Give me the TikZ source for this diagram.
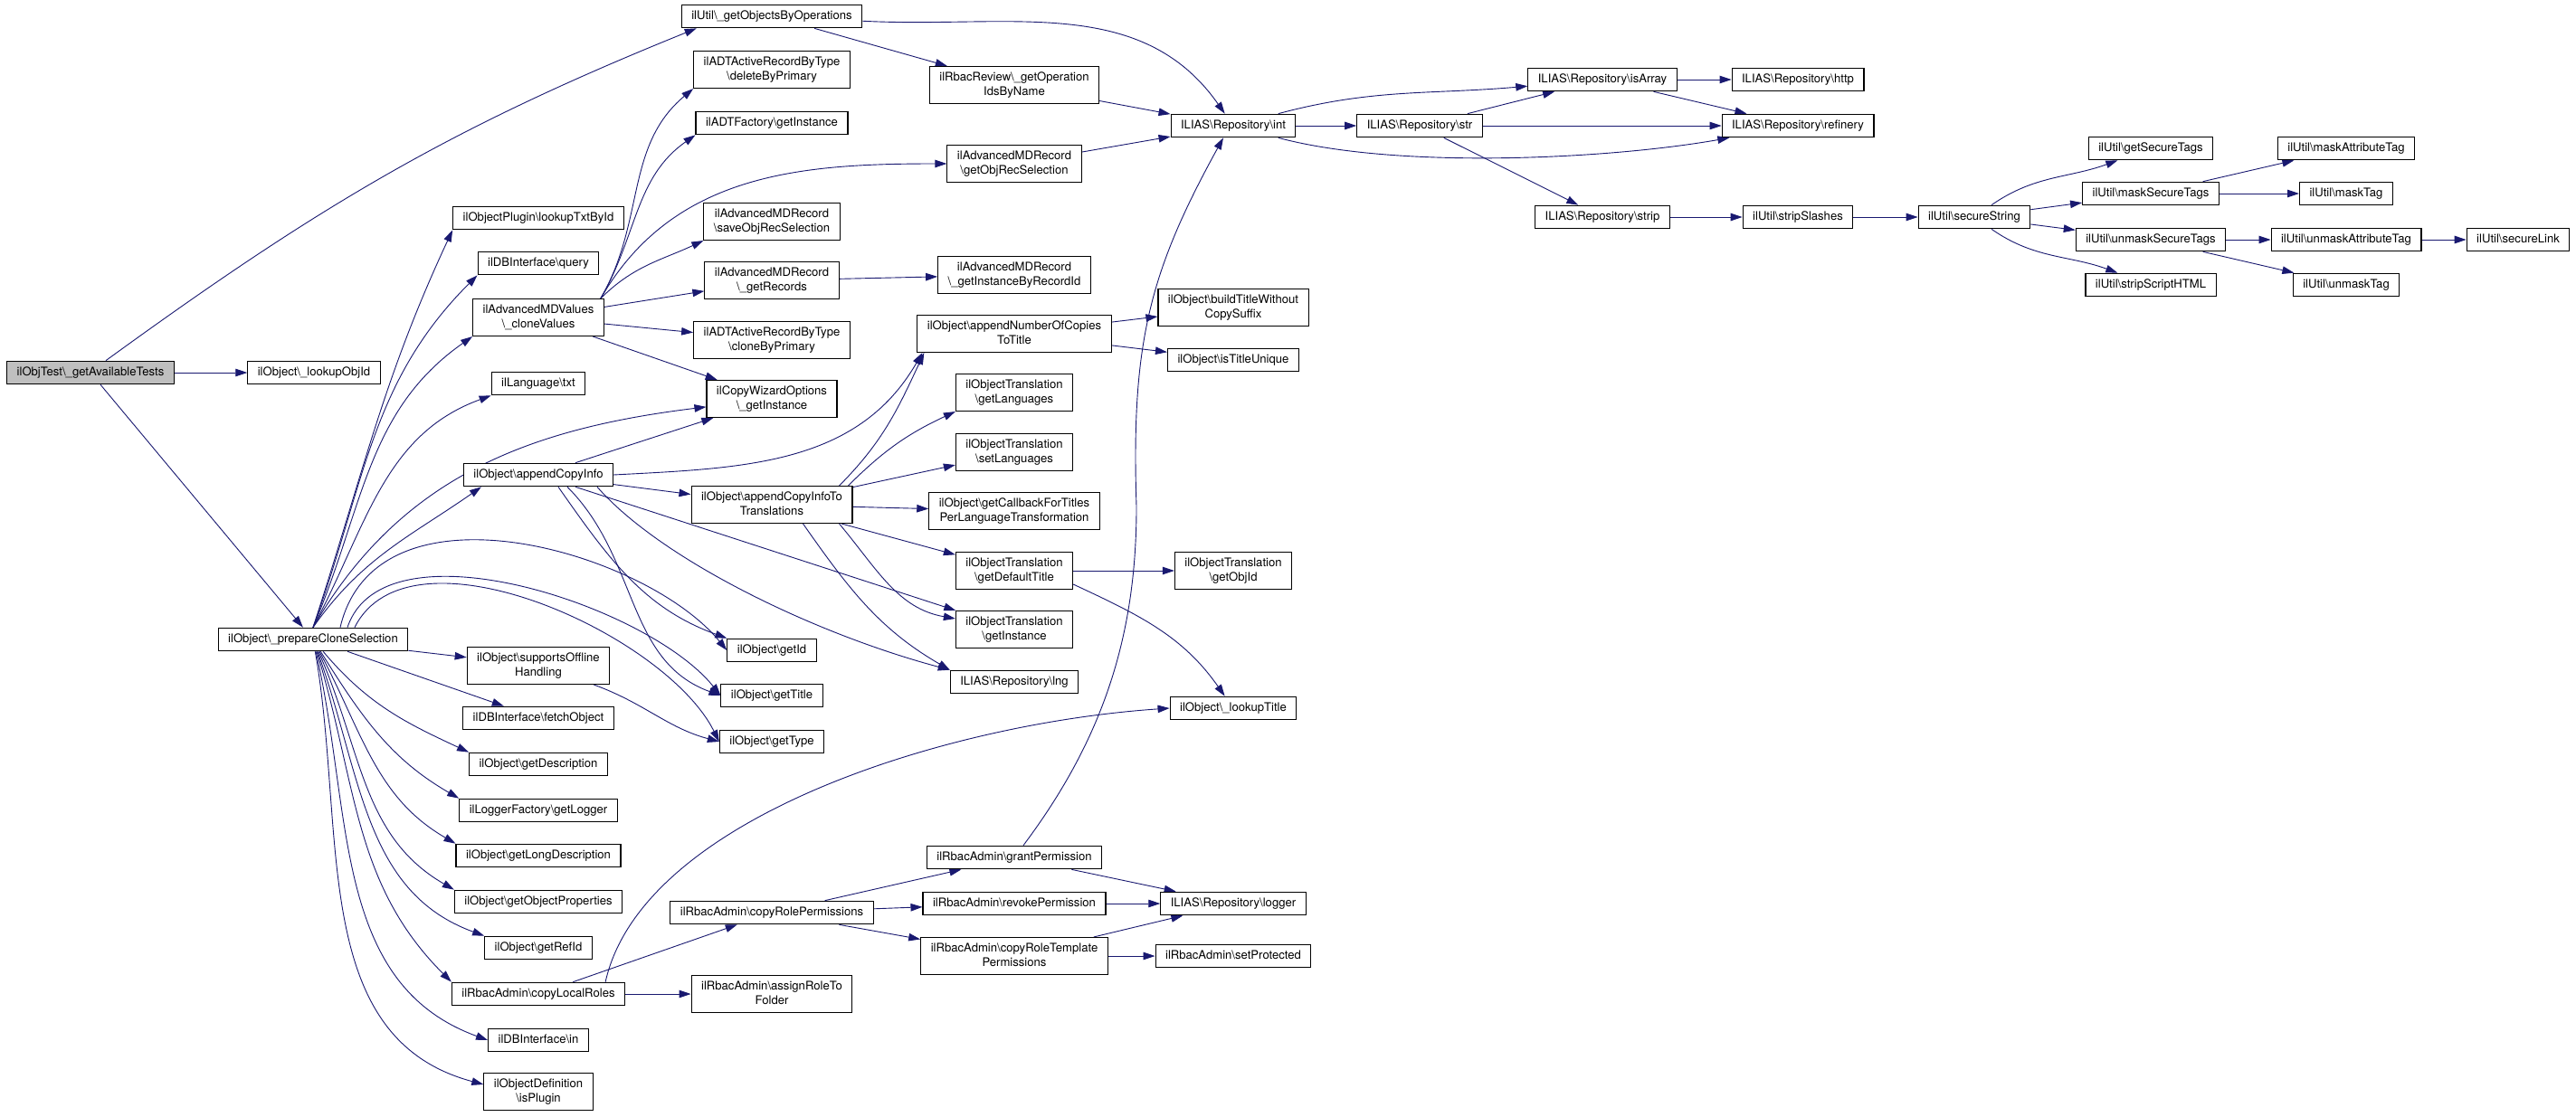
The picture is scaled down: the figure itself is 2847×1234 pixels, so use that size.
\documentclass[tikz,border=0pt]{standalone}
\usepackage{fontspec}
\setmainfont{TeX Gyre Heros}
\usetikzlibrary{arrows.meta,backgrounds}
\definecolor{edgeblue}{HTML}{191970}
\definecolor{rootgray}{HTML}{BFBFBF}
\newcommand{\bsl}{\textbackslash}
\tikzset{
  fn/.style={draw=black, line width=1.1pt, fill=white, inner xsep=11pt, inner ysep=6.5pt,
    text height=9.6pt, text depth=3pt, align=center, font=\fontsize{13.1pt}{15.4pt}\selectfont},
  fn2/.style={fn, text height=25pt},
  call/.style={draw=edgeblue, line width=0.9pt, -{Triangle[length=13pt,width=8.5pt]}},
}
\begin{document}
\begin{tikzpicture}[x=1pt,y=-1pt]
  \useasboundingbox (0,0) rectangle (2847,1234);
  % caller and first level
  \node[fn, fill=rootgray] (root) at (100,412) {ilObjTest\bsl\_getAvailableTests};
  \node[fn] (lookupObjId) at (347,412) {ilObject\bsl\_lookupObjId};
  \node[fn] (prepareClone) at (346,707) {ilObject\bsl\_prepareCloneSelection};
  % column 3
  \node[fn] (lookupTxt) at (595,241) {ilObjectPlugin\bsl lookupTxtById};
  \node[fn] (dbQuery) at (595,291) {ilDBInterface\bsl query};
  \node[fn2] (cloneValues) at (595,351) {ilAdvancedMDValues\\\bsl\_cloneValues};
  \node[fn] (langTxt) at (595,424) {ilLanguage\bsl txt};
  \node[fn] (appendCopyInfo) at (595,525) {ilObject\bsl appendCopyInfo};
  \node[fn2] (supportsOffline) at (595,736) {ilObject\bsl supportsOffline\\Handling};
  \node[fn] (fetchObject) at (595,794) {ilDBInterface\bsl fetchObject};
  \node[fn] (getDescription) at (595,845) {ilObject\bsl getDescription};
  \node[fn] (getLogger) at (595,896) {ilLoggerFactory\bsl getLogger};
  \node[fn] (getLongDescription) at (595,946) {ilObject\bsl getLongDescription};
  \node[fn] (getObjectProperties) at (595,997) {ilObject\bsl getObjectProperties};
  \node[fn] (getRefId) at (595,1048) {ilObject\bsl getRefId};
  \node[fn] (copyLocalRoles) at (595,1099) {ilRbacAdmin\bsl copyLocalRoles};
  \node[fn] (dbIn) at (595,1150) {ilDBInterface\bsl in};
  \node[fn2] (isPlugin) at (595,1207) {ilObjectDefinition\\\bsl isPlugin};
  % column 4
  \node[fn] (getObjsByOps) at (853,18) {ilUtil\bsl\_getObjectsByOperations};
  \node[fn2] (deleteByPrimary) at (853,77) {ilADTActiveRecordByType\\\bsl deleteByPrimary};
  \node[fn] (adtFactory) at (853,136) {ilADTFactory\bsl getInstance};
  \node[fn2] (saveObjRec) at (853,245) {ilAdvancedMDRecord\\\bsl saveObjRecSelection};
  \node[fn2] (getRecords) at (853,310) {ilAdvancedMDRecord\\\bsl\_getRecords};
  \node[fn2] (cloneByPrimary) at (853,376) {ilADTActiveRecordByType\\\bsl cloneByPrimary};
  \node[fn2] (copyWizard) at (853,441) {ilCopyWizardOptions\\\bsl\_getInstance};
  \node[fn2] (copyInfoTrans) at (853,558) {ilObject\bsl appendCopyInfoTo\\Translations};
  \node[fn] (getId) at (853,719) {ilObject\bsl getId};
  \node[fn] (getTitle) at (853,769) {ilObject\bsl getTitle};
  \node[fn] (getType) at (853,820) {ilObject\bsl getType};
  \node[fn] (copyRolePerms) at (853,1009) {ilRbacAdmin\bsl copyRolePermissions};
  \node[fn2] (assignRole) at (853,1099) {ilRbacAdmin\bsl assignRoleTo\\Folder};
  % column 5
  \node[fn2] (getOpIds) at (1121,94) {ilRbacReview\bsl\_getOperation\\IdsByName};
  \node[fn2] (getObjRec) at (1121,181) {ilAdvancedMDRecord\\\bsl getObjRecSelection};
  \node[fn2] (getInstByRec) at (1121,304) {ilAdvancedMDRecord\\\bsl\_getInstanceByRecordId};
  \node[fn2] (appendCopies) at (1121,369) {ilObject\bsl appendNumberOfCopies\\ToTitle};
  \node[fn2] (getLanguages) at (1121,434) {ilObjectTranslation\\\bsl getLanguages};
  \node[fn2] (setLanguages) at (1121,500) {ilObjectTranslation\\\bsl setLanguages};
  \node[fn2] (getCallback) at (1121,565) {ilObject\bsl getCallbackForTitles\\PerLanguageTransformation};
  \node[fn2] (getDefaultTitle) at (1121,631) {ilObjectTranslation\\\bsl getDefaultTitle};
  \node[fn2] (otInstance) at (1121,696) {ilObjectTranslation\\\bsl getInstance};
  \node[fn] (repoLng) at (1121,754) {ILIAS\bsl Repository\bsl lng};
  \node[fn] (grantPerm) at (1121,948) {ilRbacAdmin\bsl grantPermission};
  \node[fn] (revokePerm) at (1121,999) {ilRbacAdmin\bsl revokePermission};
  \node[fn2] (copyRoleTpl) at (1121,1057) {ilRbacAdmin\bsl copyRoleTemplate\\Permissions};
  % column 6
  \node[fn] (repoInt) at (1363,139) {ILIAS\bsl Repository\bsl int};
  \node[fn2] (buildTitle) at (1363,340) {ilObject\bsl buildTitleWithout\\CopySuffix};
  \node[fn] (isTitleUnique) at (1363,398) {ilObject\bsl isTitleUnique};
  \node[fn2] (otObjId) at (1363,631) {ilObjectTranslation\\\bsl getObjId};
  \node[fn] (lookupTitle) at (1363,783) {ilObject\bsl\_lookupTitle};
  \node[fn] (repoLogger) at (1363,999) {ILIAS\bsl Repository\bsl logger};
  \node[fn] (setProtected) at (1363,1057) {ilRbacAdmin\bsl setProtected};
  % right part
  \node[fn] (repoStr) at (1569,139) {ILIAS\bsl Repository\bsl str};
  \node[fn] (repoIsArray) at (1771,88) {ILIAS\bsl Repository\bsl isArray};
  \node[fn] (repoStrip) at (1771,240) {ILIAS\bsl Repository\bsl strip};
  \node[fn] (repoHttp) at (1987,88) {ILIAS\bsl Repository\bsl http};
  \node[fn] (repoRefinery) at (1987,139) {ILIAS\bsl Repository\bsl refinery};
  \node[fn] (stripSlashes) at (1987,240) {ilUtil\bsl stripSlashes};
  \node[fn] (secureString) at (2182,240) {ilUtil\bsl secureString};
  \node[fn] (getSecureTags) at (2377,164) {ilUtil\bsl getSecureTags};
  \node[fn] (maskSecureTags) at (2377,214) {ilUtil\bsl maskSecureTags};
  \node[fn] (unmaskSecureTags) at (2377,265) {ilUtil\bsl unmaskSecureTags};
  \node[fn] (stripScriptHTML) at (2377,315) {ilUtil\bsl stripScriptHTML};
  \node[fn] (maskAttributeTag) at (2593,164) {ilUtil\bsl maskAttributeTag};
  \node[fn] (maskTag) at (2593,214) {ilUtil\bsl maskTag};
  \node[fn] (unmaskAttributeTag) at (2593,265) {ilUtil\bsl unmaskAttributeTag};
  \node[fn] (unmaskTag) at (2593,315) {ilUtil\bsl unmaskTag};
  \node[fn] (secureLink) at (2783,265) {ilUtil\bsl secureLink};
  \coordinate (grantBend) at (1256,560);
  \begin{scope}[on background layer]
  % calls of the caller
  \draw[call] (root) -- (lookupObjId);
  \draw[call] (root) -- (prepareClone);
  \draw[call] ([xshift=17pt]root.north) to[out=36,in=202] ([xshift=17pt]getObjsByOps.south west);
  \draw[call] (getObjsByOps) -- (getOpIds);
  \draw[call] (getObjsByOps) to[out=-3,in=125] (repoInt);
  \draw[call] (getOpIds) -- (repoInt);
  \draw[call] (getObjRec) -- (repoInt);
  % repository and ilUtil chain
  \draw[call] (repoInt) -- (repoStr);
  \draw[call] (repoInt) to[out=15,in=185] (repoIsArray);
  \draw[call] (repoInt) to[out=-15,in=190,looseness=0.7] (repoRefinery);
  \draw[call] (repoStr) -- (repoIsArray);
  \draw[call] (repoStr) -- (repoRefinery);
  \draw[call] (repoStr) -- (repoStrip);
  \draw[call] (repoIsArray) -- (repoHttp);
  \draw[call] (repoIsArray) -- (repoRefinery);
  \draw[call] (repoStrip) -- (stripSlashes);
  \draw[call] (stripSlashes) -- (secureString);
  \draw[call] (secureString) to[out=35,in=200] (getSecureTags);
  \draw[call] (secureString) -- (maskSecureTags);
  \draw[call] (secureString) -- (unmaskSecureTags);
  \draw[call] (secureString) to[out=-35,in=160] (stripScriptHTML);
  \draw[call] (maskSecureTags) -- (maskAttributeTag);
  \draw[call] (maskSecureTags) -- (maskTag);
  \draw[call] (unmaskSecureTags) -- (unmaskAttributeTag);
  \draw[call] (unmaskSecureTags) -- (unmaskTag);
  \draw[call] (unmaskAttributeTag) -- (secureLink);
  % cloneValues
  \draw[call] ([xshift=-4pt]cloneValues.north east) to[out=60,in=220] (deleteByPrimary.south west);
  \draw[call] ([xshift=-4pt]cloneValues.north east) to[out=60,in=215] (adtFactory.south west);
  \draw[call] ([xshift=-4pt]cloneValues.north east) to[out=60,in=180] (getObjRec);
  \draw[call] ([xshift=-4pt]cloneValues.north east) to[out=45,in=205] (saveObjRec.south west);
  \draw[call] (cloneValues) -- (getRecords);
  \draw[call] (cloneValues) -- (cloneByPrimary);
  \draw[call] (cloneValues) -- (copyWizard);
  \draw[call] (getRecords) -- (getInstByRec);
  % prepareCloneSelection upwards
  \draw[call] (prepareClone.north) to[out=72,in=245] (lookupTxt.south west);
  \draw[call] (prepareClone.north) to[out=70,in=225] (dbQuery.south west);
  \draw[call] (prepareClone.north) to[out=67,in=215] (cloneValues.south west);
  \draw[call] (prepareClone.north) to[out=62,in=200] (langTxt.south west);
  \draw[call] (prepareClone.north) to[out=55,in=215] ([xshift=20pt]appendCopyInfo.south west);
  \draw[call] (prepareClone.north) to[out=60,in=187] (copyWizard);
  \draw[call] ([xshift=30pt]prepareClone.north) .. controls +(40,-170) and +(-90,-110) .. (getId.west);
  \draw[call] ([xshift=38pt]prepareClone.north) .. controls +(40,-120) and +(-80,-100) .. (getTitle.west);
  \draw[call] ([xshift=46pt]prepareClone.north) .. controls +(60,-120) and +(-60,-120) .. (getType.west);
  % prepareCloneSelection downwards
  \draw[call] (prepareClone) -- (supportsOffline);
  \draw[call] (prepareClone) -- (fetchObject);
  \draw[call] (prepareClone) to[out=-50,in=155] (getDescription.north west);
  \draw[call] (prepareClone) to[out=-58,in=150] (getLogger.north west);
  \draw[call] (prepareClone) to[out=-62,in=150] (getLongDescription.north west);
  \draw[call] (prepareClone) to[out=-66,in=150] (getObjectProperties.north west);
  \draw[call] (prepareClone) to[out=-70,in=160] (getRefId.north west);
  \draw[call] (prepareClone) to[out=-73,in=135] (copyLocalRoles.north west);
  \draw[call] (prepareClone) to[out=-77,in=160] (dbIn.west);
  \draw[call] (prepareClone) to[out=-80,in=165] ([yshift=8pt]isPlugin.west);
  \draw[call] ([xshift=-18pt]supportsOffline.south east) to[out=-20,in=165] (getType.west);
  % appendCopyInfo
  \draw[call] (appendCopyInfo) -- (copyWizard);
  \draw[call] (appendCopyInfo.east) to[out=3,in=240] ([xshift=6pt]appendCopies.south west);
  \draw[call] (appendCopyInfo) -- (copyInfoTrans);
  \draw[call] (appendCopyInfo) -- (otInstance);
  \draw[call] ([xshift=65pt]appendCopyInfo.south) .. controls +(70,80) and +(-150,-40) .. (repoLng.north west);
  \draw[call] ([xshift=22pt]appendCopyInfo.south) to[out=-55,in=160] (getId.north west);
  \draw[call] ([xshift=32pt]appendCopyInfo.south) to[out=-45,in=160] (getTitle.west);
  % appendCopyInfoToTranslations
  \draw[call] ([xshift=-15pt]copyInfoTrans.north east) to[out=45,in=245] ([xshift=8pt]appendCopies.south west);
  \draw[call] ([xshift=-5pt]copyInfoTrans.north east) to[out=45,in=205] (getLanguages.south west);
  \draw[call] (copyInfoTrans) -- (setLanguages);
  \draw[call] (copyInfoTrans) -- (getCallback);
  \draw[call] (copyInfoTrans) -- (getDefaultTitle);
  \draw[call] ([xshift=-15pt]copyInfoTrans.south east) to[out=-50,in=170] ([yshift=12pt]otInstance.west);
  \draw[call] ([xshift=-55pt]copyInfoTrans.south east) to[out=-55,in=150] (repoLng.north west);
  \draw[call] (appendCopies) -- (buildTitle);
  \draw[call] (appendCopies) -- (isTitleUnique);
  \draw[call] (getDefaultTitle) -- (otObjId);
  \draw[call] ([yshift=-15pt]getDefaultTitle.east) to[out=-25,in=125] (lookupTitle);
  % copyLocalRoles
  \draw[call] ([xshift=-22pt]copyLocalRoles.north east) .. controls +(40,-180) and +(-250,17) .. (lookupTitle.west);
  \draw[call] (copyLocalRoles) -- (copyRolePerms);
  \draw[call] (copyLocalRoles) -- (assignRole);
  \draw[call] (copyRolePerms) -- (grantPerm);
  \draw[call] (copyRolePerms) -- (revokePerm);
  \draw[call] (copyRolePerms) -- (copyRoleTpl);
  \draw[call] ([xshift=10pt]grantPerm.north) .. controls +(90,-120) and +(0,140) .. (grantBend)
    .. controls +(-6,-180) and +(-82,149) .. ([xshift=-11pt]repoInt.south);
  \draw[call] (grantPerm) -- (repoLogger);
  \draw[call] (revokePerm) -- (repoLogger);
  \draw[call] (copyRoleTpl) -- (repoLogger);
  \draw[call] (copyRoleTpl) -- (setProtected);
  \end{scope}
\end{tikzpicture}
\end{document}
